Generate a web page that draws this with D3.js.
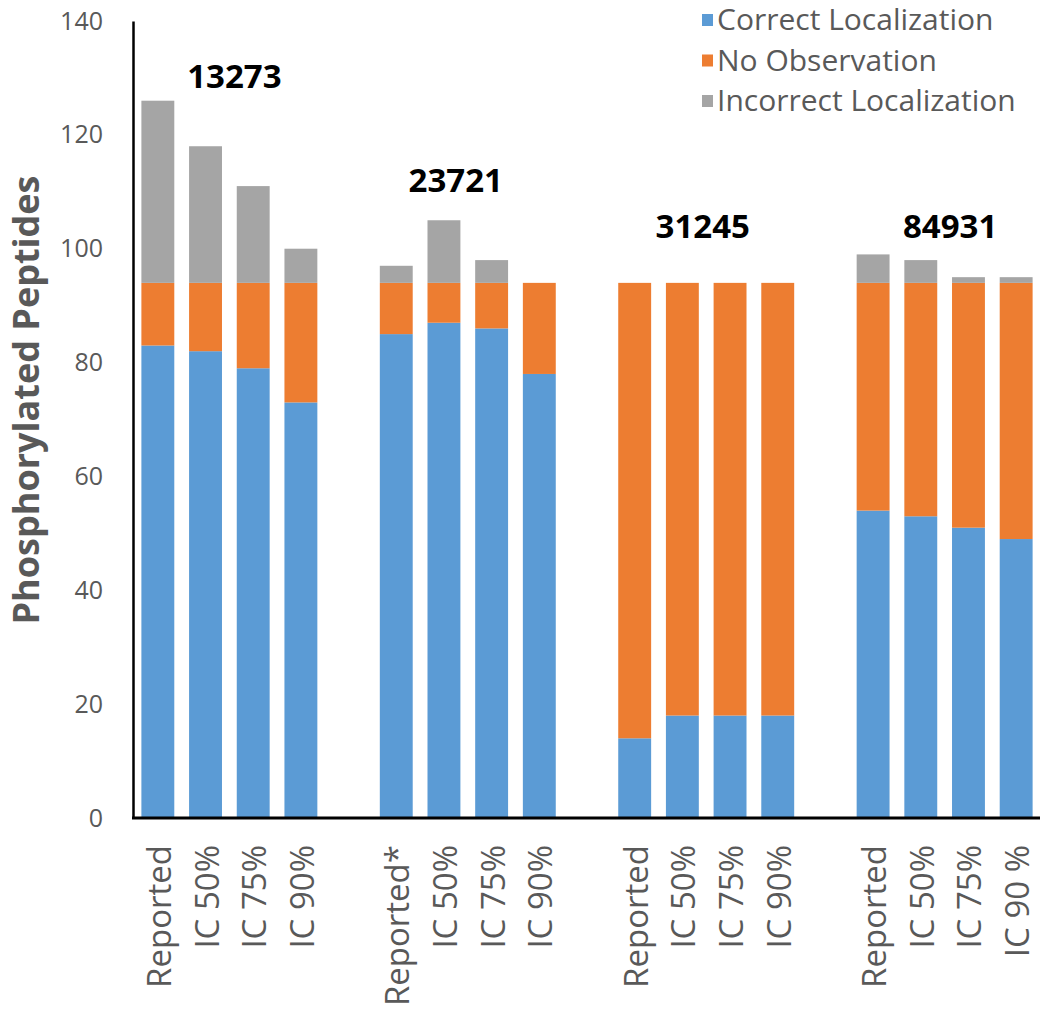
<!DOCTYPE html>
<html><head><meta charset="utf-8">
<script src="https://cdn.jsdelivr.net/npm/d3@7"></script>
<style>body{margin:0;background:#fff;}svg{display:block;}</style>
</head><body>
<svg id="chart" width="1050" height="1013"></svg>
<script>
const groups = ["13273", "23721", "31245", "84931"];
const categories = [
  ["Reported", "IC 50%", "IC 75%", "IC 90%"],
  ["Reported*", "IC 50%", "IC 75%", "IC 90%"],
  ["Reported", "IC 50%", "IC 75%", "IC 90%"],
  ["Reported", "IC 50%", "IC 75%", "IC 90 %"]
];
const seriesNames = ["Correct Localization", "No Observation", "Incorrect Localization"];
const correct = [83, 82, 79, 73, 85, 87, 86, 78, 14, 18, 18, 18, 54, 53, 51, 49];
const noObs = [11, 12, 15, 21, 9, 7, 8, 16, 80, 76, 76, 76, 40, 41, 43, 45];
const incorrect = [32, 24, 17, 6, 3, 11, 4, 0, 0, 0, 0, 0, 5, 4, 1, 1];
const yTicks = [0, 20, 40, 60, 80, 100, 120, 140];
const colors = ["#5B9BD5", "#ED7D31", "#A5A5A5"];

const font = "'Open Sans', 'DejaVu Sans', sans-serif";
const svg = d3.select("#chart");
const mLeft = 134, mRight = 1040, mTop = 21, mBottom = 818;

const rows = [];
groups.forEach((g, gi) => categories[gi].forEach((c, ci) => {
  const k = gi * 4 + ci;
  rows.push({slot: gi * 5 + ci, group: g, cat: c,
    "Correct Localization": correct[k], "No Observation": noObs[k], "Incorrect Localization": incorrect[k]});
}));

const x = d3.scaleBand().domain(d3.range(19)).range([mLeft, mRight]).paddingInner(0.31).paddingOuter(0.155);
const y = d3.scaleLinear().domain([0, 140]).range([mBottom, mTop]);
const stack = d3.stack().keys(seriesNames)(rows);

svg.append("g").selectAll("g").data(stack).join("g")
  .attr("fill", (d, i) => colors[i])
  .selectAll("rect").data(d => d.filter(p => p[1] > p[0])).join("rect")
  .attr("x", d => x(d.data.slot))
  .attr("width", x.bandwidth())
  .attr("y", d => y(d[1]))
  .attr("height", d => y(d[0]) - y(d[1]));

// y axis
const ya = svg.append("g").attr("transform", `translate(${mLeft - 1},0)`)
  .call(d3.axisLeft(y).tickValues(yTicks).tickSize(0).tickPadding(30));
ya.select(".domain").attr("stroke", "#000").attr("stroke-width", 2.5);
ya.selectAll("text").attr("font-family", font).attr("font-size", 25).attr("fill", "#595959");

// x axis
const xa = svg.append("g").attr("transform", `translate(0,${mBottom})`)
  .call(d3.axisBottom(x).tickSize(0).tickFormat(""));
xa.select(".domain").attr("stroke", "#000").attr("stroke-width", 3).attr("d", `M${mLeft - 2},0H${mRight}`);

// category labels
svg.append("g").selectAll("text").data(rows).join("text")
  .attr("transform", d => `translate(${x(d.slot) + x.bandwidth() / 2 + 13},845) rotate(-90)`)
  .attr("text-anchor", "end")
  .attr("font-family", font).attr("font-size", 33).attr("fill", "#595959")
  .text(d => d.cat);

// group labels
const groupLabelY = [88, 192, 238, 238];
const groupLabelShift = [5, -12, -3.5, 5.5];
svg.append("g").selectAll("text").data(groups).join("text")
  .attr("x", (g, gi) => (x(gi * 5) + x(gi * 5 + 3) + x.bandwidth()) / 2 + groupLabelShift[gi])
  .attr("y", (g, gi) => groupLabelY[gi])
  .attr("text-anchor", "middle")
  .attr("font-family", font).attr("font-size", 33).attr("font-weight", "bold").attr("fill", "#000")
  .text(g => g);

// y title
svg.append("text")
  .attr("transform", `translate(38.5,400) rotate(-90)`)
  .attr("text-anchor", "middle")
  .attr("font-family", font).attr("font-size", 36).attr("font-weight", "bold").attr("fill", "#595959")
  .text("Phosphorylated Peptides");

// legend
const lg = svg.append("g");
seriesNames.forEach((s, i) => {
  const base = 30 + i * 40.5;
  lg.append("rect").attr("x", 702).attr("y", base - 16).attr("width", 11).attr("height", 12).attr("fill", colors[i]);
  lg.append("text").attr("x", 717).attr("y", base)
    .attr("font-family", font).attr("font-size", 30).attr("fill", "#595959").text(s);
});
</script>
</body></html>
